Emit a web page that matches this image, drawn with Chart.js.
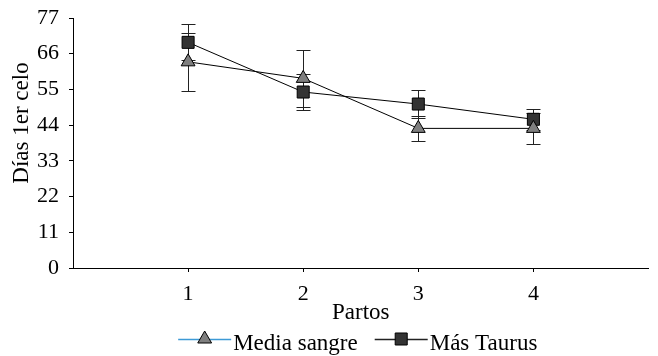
<!DOCTYPE html>
<html>
<head>
<meta charset="utf-8">
<script src="https://cdn.jsdelivr.net/npm/chart.js@4"></script>
<style>html,body{margin:0;padding:0;background:#fff;}</style>
</head>
<body>
<canvas id="myChart" width="658" height="356"></canvas>
<script>
// values
const partos = [1, 2, 3, 4];
const mediaSangre = [63.5, 58.4, 43.0, 43.0];
const mediaSangreErr = [8.9, 8.7, 3.9, 4.8];
const masTaurus = [69.5, 54.2, 50.5, 45.8];
const masTaurusErr = [5.5, 5.5, 4.4, 3.2];
const yTicks = [0, 11, 22, 33, 44, 55, 66, 77];
const seriesNames = ["Media sangre", "Más Taurus"];
const yTitle = "Días 1er celo";

const FONT = "'Liberation Serif', 'Times New Roman', serif";

function pts(vals){ return partos.map((p, i) => ({x: p, y: vals[i]})); }

// whiskers drawn through the scales
const errorBars = {
  id: 'errorBars',
  beforeDatasetsDraw(chart) {
    const ctx = chart.ctx, xs = chart.scales.x, ys = chart.scales.y;
    chart.data.datasets.forEach(ds => {
      ds.data.forEach((p, i) => {
        const e = ds.errors[i];
        const x = Math.round(xs.getPixelForValue(p.x)) + 0.5;
        const t = Math.round(ys.getPixelForValue(p.y + e)) + 0.5;
        const b = Math.round(ys.getPixelForValue(p.y - e)) + 0.5;
        ctx.save();
        ctx.strokeStyle = '#222';
        ctx.lineWidth = 1;
        ctx.beginPath();
        ctx.moveTo(x, t); ctx.lineTo(x, b);
        ctx.moveTo(x - 7, t); ctx.lineTo(x + 7, t);
        ctx.moveTo(x - 7, b); ctx.lineTo(x + 7, b);
        ctx.stroke();
        ctx.restore();
      });
    });
  }
};

// y title sits a bit above the middle of the axis in the original
const sideTitle = {
  id: 'sideTitle',
  afterDraw(chart) {
    const ctx = chart.ctx;
    ctx.save();
    ctx.translate(22, 123);
    ctx.rotate(-Math.PI / 2);
    ctx.font = "23px " + FONT;
    ctx.fillStyle = '#000';
    ctx.textAlign = 'center';
    ctx.textBaseline = 'middle';
    ctx.fillText(yTitle, 0, 0);
    ctx.restore();
  }
};

// legend with line + marker like the original
const lineLegend = {
  id: 'lineLegend',
  afterDraw(chart) {
    const ctx = chart.ctx, area = chart.chartArea;
    const y = 339, lineW = 53, gap = 2, itemGap = 17;
    ctx.save();
    ctx.font = "23px " + FONT;
    const widths = seriesNames.map(n => ctx.measureText(n).width);
    const total = widths.reduce((a, w) => a + lineW + gap + w, 0) + itemGap;
    let x = (area.left + area.right) / 2 - total / 2 - 3;
    const lineCols = ['#3d9ad6', '#222'];
    chart.data.datasets.forEach((ds, i) => {
      ctx.strokeStyle = lineCols[i];
      ctx.lineWidth = 1.5;
      ctx.beginPath(); ctx.moveTo(x, y + 0.5); ctx.lineTo(x + lineW, y + 0.5); ctx.stroke();
      ctx.fillStyle = ds.pointBackgroundColor;
      ctx.strokeStyle = '#000';
      ctx.lineWidth = 1;
      Chart.helpers.drawPoint(ctx, {pointStyle: ds.pointStyle, radius: ds.pointRadius, borderWidth: 1}, x + lineW / 2, y);
      ctx.fillStyle = '#000';
      ctx.textBaseline = 'middle';
      ctx.textAlign = 'left';
      ctx.fillText(seriesNames[i], x + lineW + gap, y + 5);
      x += lineW + gap + widths[i] + itemGap;
    });
    ctx.restore();
  }
};

new Chart(document.getElementById("myChart"), {
  type: 'line',
  data: {
    datasets: [
      {
        label: seriesNames[0],
        data: pts(mediaSangre),
        errors: mediaSangreErr,
        borderColor: '#000',
        borderWidth: 1,
        pointStyle: 'triangle',
        pointRadius: 8,
        pointBackgroundColor: '#7f7f7f',
        pointBorderColor: '#000',
        pointBorderWidth: 1
      },
      {
        label: seriesNames[1],
        data: pts(masTaurus),
        errors: masTaurusErr,
        borderColor: '#000',
        borderWidth: 1,
        pointStyle: 'rect',
        pointRadius: 8.5,
        pointBackgroundColor: '#333333',
        pointBorderColor: '#000',
        pointBorderWidth: 1
      }
    ]
  },
  options: {
    responsive: false,
    animation: false,
    layout: { padding: { top: 18, right: 2, bottom: 28, left: 0 } },
    plugins: {
      legend: { display: false },
      tooltip: { enabled: false }
    },
    scales: {
      x: {
        type: 'linear',
        min: 0, max: 5,
        afterBuildTicks: s => { s.ticks = partos.map(v => ({value: v})); },
        afterFit: s => { s.height = 60; },
        grid: { drawOnChartArea: false, drawTicks: true, tickLength: 4, color: '#000' },
        border: { display: true, color: '#000', width: 1 },
        ticks: { color: '#000', font: { family: FONT, size: 22 }, padding: 9, maxRotation: 0 },
        title: { display: true, text: 'Partos', color: '#000', font: { family: FONT, size: 23 }, padding: { top: 0, bottom: 1 } }
      },
      y: {
        min: 0, max: 77,
        afterBuildTicks: s => { s.ticks = yTicks.map(v => ({value: v})); },
        afterFit: s => { s.width = 73; },
        grid: { drawOnChartArea: false, drawTicks: true, tickLength: 4, color: '#000' },
        border: { display: true, color: '#000', width: 1 },
        ticks: { color: '#000', font: { family: FONT, size: 22, lineHeight: 0.7 }, padding: 10 },
        title: { display: false }
      }
    }
  },
  plugins: [errorBars, sideTitle, lineLegend]
});
</script>
</body>
</html>
